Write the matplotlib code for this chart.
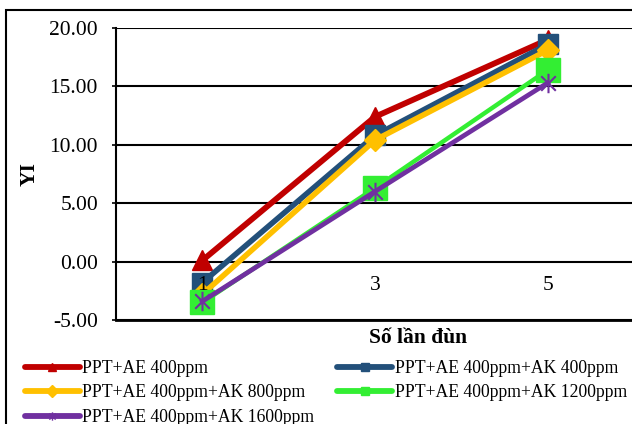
import matplotlib
matplotlib.use('Agg')
import matplotlib.pyplot as plt
from matplotlib.lines import Line2D
from matplotlib.patches import Rectangle
from matplotlib.path import Path

plt.rcParams['font.family'] = ['Liberation Serif', 'DejaVu Serif']

# so lan dun (number of extrusions) and YI values for each formulation
categories = ['1', '3', '5']
ae400 = [0.1, 12.4, 19.0]
ae400_ak400 = [-1.8, 10.8, 18.6]
ae400_ak800 = [-2.8, 10.4, 18.1]
ae400_ak1200 = [-3.5, 6.3, 16.4]
ae400_ak1600 = [-3.4, 6.0, 15.3]
labels = ['PPT+AE 400ppm', 'PPT+AE 400ppm+AK 400ppm', 'PPT+AE 400ppm+AK 800ppm',
          'PPT+AE 400ppm+AK 1200ppm', 'PPT+AE 400ppm+AK 1600ppm']
yticks = [-5, 0, 5, 10, 15, 20]

# excel style asterisk: X plus a vertical bar
star = Path([(0, -1), (0, 1), (-0.75, -0.75), (0.75, 0.75), (-0.75, 0.75), (0.75, -0.75)],
            [Path.MOVETO, Path.LINETO, Path.MOVETO, Path.LINETO, Path.MOVETO, Path.LINETO])

series = [
    (ae400, '#C00000', '^', 15, 4.2),
    (ae400_ak400, '#23507A', 's', 14, 4.0),
    (ae400_ak800, '#FFC000', 'D', 11, 4.0),
    (ae400_ak1200, '#33EE33', 's', 17, 3.2),
    (ae400_ak1600, '#7030A0', star, 14, 3.4),
]

W, H = 632, 424
fig = plt.figure(figsize=(W / 100, H / 100), dpi=100)
ax = fig.add_axes([116 / W, (H - 320) / H, 518 / W, 292 / H])

x = list(range(len(categories)))
for (vals, col, mk, ms, lw), lab in zip(series, labels):
    ax.plot(x, vals, color=col, lw=lw, marker=mk, markersize=ms,
            markeredgecolor=col, markeredgewidth=1.5 if mk is star else 1,
            solid_joinstyle='round', label=lab, zorder=3)

ax.set_xlim(-0.5, 2.5)
ax.set_ylim(-5, 20)
ax.set_yticks(yticks)
ax.set_yticklabels(['%.2f' % v for v in yticks])
ax.yaxis.grid(True, color='black', lw=1.5)
ax.set_axisbelow(True)
ax.set_xticks([])
ax.tick_params(axis='y', labelsize=15.5, length=3, width=1.2, pad=10)
for s in ['top', 'right']:
    ax.spines[s].set_visible(False)
ax.spines['left'].set_linewidth(1.5)
ax.spines['bottom'].set_linewidth(2)

# category labels sit just under the zero line
for i, c in enumerate(categories):
    ax.annotate(c, (i, 0), xytext=(0, -17), textcoords='offset points',
                ha='center', va='center', fontsize=15.5, zorder=10)

ax.set_ylabel('YI', fontsize=15.5, fontweight='bold')
ax.yaxis.set_label_coords(-0.148, 0.5)
fig.text(418 / W, 1 - 338 / H, 'Số lần đùn', fontsize=15.5, fontweight='bold',
         ha='center', va='center')

handles = []
for (vals, col, mk, ms, lw), lab in zip(series, labels):
    handles.append(Line2D([], [], color=col, lw=4.2, marker=mk, markersize=6,
                          markeredgecolor=col, solid_capstyle='round'))
# legend fills row by row: reorder for the column-wise layout of fig.legend
order = [0, 2, 4, 1, 3]
fig.legend([handles[i] for i in order], [labels[i] for i in order], ncol=2,
           loc='upper left', bbox_to_anchor=(25 / W, 1 - 360 / H),
           frameon=False, fontsize=12.7, handlelength=3.1, handletextpad=0.15,
           columnspacing=1.3, labelspacing=0.42, borderaxespad=0, borderpad=0)

# chart area border
fig.patches.append(Rectangle((6 / W, -0.1), 2, (H - 10) / H + 0.1, transform=fig.transFigure,
                             fill=False, edgecolor='black', lw=1.5))

fig.savefig('out.png', dpi=100)
